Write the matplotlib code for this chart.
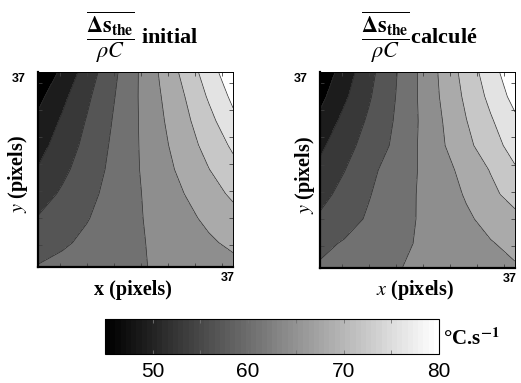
import numpy as np
import matplotlib.pyplot as plt
from matplotlib import cm, colors

plt.rcParams['mathtext.fontset'] = 'stix'

xs = [1, 5.5, 10, 14.5, 19, 23.5, 28, 32.5, 37]
ys = [1, 5.5, 10, 14.5, 19, 23.5, 28, 32.5, 37]

# rows go from y=1 (bottom) to y=37 (top)
z_initial = [
    [59.2, 60.0, 60.7, 61.4, 62.1, 62.9, 63.6, 64.3, 65.0],
    [57.4, 58.5, 59.7, 60.8, 62.0, 63.2, 64.3, 65.5, 66.7],
    [55.7, 57.3, 58.8, 60.4, 62.0, 63.6, 65.1, 66.7, 68.3],
    [53.9, 56.0, 58.0, 60.0, 62.0, 64.0, 66.0, 68.1, 70.1],
    [52.2, 54.7, 57.2, 59.6, 62.1, 64.5, 67.0, 69.4, 71.9],
    [50.7, 53.6, 56.4, 59.3, 62.1, 65.0, 67.8, 70.7, 73.6],
    [49.2, 52.5, 55.7, 58.9, 62.1, 65.4, 68.6, 71.9, 75.6],
    [47.5, 51.1, 54.8, 58.4, 62.1, 65.8, 69.4, 73.4, 77.3],
    [45.0, 49.3, 53.5, 57.8, 62.0, 66.3, 70.5, 74.8, 79.0],
]

z_calcule = [
    [59.4, 60.3, 61.2, 62.2, 63.0, 63.7, 64.3, 65.0, 65.7],
    [58.2, 59.3, 60.4, 61.6, 62.7, 63.7, 64.7, 65.8, 66.8],
    [56.0, 57.7, 59.4, 61.0, 62.6, 64.1, 65.5, 67.0, 68.5],
    [54.4, 56.6, 58.8, 60.7, 62.6, 64.4, 66.3, 68.6, 70.9],
    [52.8, 55.4, 58.1, 60.4, 62.5, 64.8, 67.1, 69.7, 72.6],
    [51.3, 54.2, 56.9, 59.4, 62.5, 65.6, 68.6, 71.5, 74.4],
    [49.3, 53.0, 56.0, 59.0, 62.4, 65.9, 69.4, 72.6, 75.8],
    [47.5, 51.4, 55.1, 58.6, 62.5, 66.4, 70.2, 73.9, 77.7],
    [45.9, 50.1, 54.4, 58.3, 62.5, 66.7, 70.9, 75.0, 79.1],
]

levels = [45, 48.5, 52, 55.5, 59, 62.5, 66, 69.5, 73, 76.5, 80]
cbar_ticks = [50, 60, 70, 80]

serif = 'Liberation Serif'
sans = 'Liberation Sans'

W, H = 521, 383
fig = plt.figure(figsize=(W / 100, H / 100), dpi=100)

band_norm = colors.Normalize(46.75, 78.25)


def draw_panel(ax, z):
    z = np.array(z)
    ax.contourf(xs, ys, z, levels=levels, cmap='gray', norm=band_norm)
    ax.contour(xs, ys, z, levels=levels[1:-1], colors='#2a2a2a', linewidths=0.5)
    ax.set_xlim(1, 37)
    ax.set_ylim(1, 37)
    ax.set_xticks([5, 10, 15, 20, 25, 30, 35])
    ax.set_yticks([5, 10, 15, 20, 25, 30, 35])
    ax.set_xticklabels([])
    ax.set_yticklabels([])
    ax.tick_params(direction='in', length=3, width=0.6, color='0.25',
                   top=True, right=True)
    for s in ['left', 'bottom']:
        ax.spines[s].set_linewidth(1.6)
    for s in ['top', 'right']:
        ax.spines[s].set_linewidth(0.7)
    ax.text(-0.065, 0.995, '37', transform=ax.transAxes, ha='right', va='top',
            fontsize=9, fontweight='bold', family=sans)
    ax.text(0.975, -0.025, '37', transform=ax.transAxes, ha='center', va='top',
            fontsize=9, fontweight='bold', family=sans)


ax1 = fig.add_axes([38 / W, 1 - 267 / H, 195 / W, 195 / H])
draw_panel(ax1, z_initial)
ax2 = fig.add_axes([320 / W, 1 - 268 / H, 195 / W, 196 / H])
draw_panel(ax2, z_calcule)

frac = r'$\dfrac{\overline{\mathbf{\Delta s}_{\mathbf{the}}}}{\rho C}$'
fig.text(142 / W, 1 - 37 / H, frac + ' initial', ha='center', va='center',
         fontsize=16, fontweight='bold', family=serif)
fig.text(419 / W, 1 - 37 / H, frac + 'calculé', ha='center', va='center',
         fontsize=16, fontweight='bold', family=serif)

# axis labels
fig.text(133 / W, 1 - 290 / H, 'x (pixels)', ha='center', va='center',
         fontsize=14.5, fontweight='bold', family=serif)
fig.text(415 / W, 1 - 290 / H, r'$\mathit{x}$ (pixels)', ha='center', va='center',
         fontsize=14.5, fontweight='bold', family=serif)
fig.text(18 / W, 1 - 174 / H, r'$\mathit{y}$ (pixels)', ha='center', va='center',
         rotation=90, fontsize=14.5, fontweight='bold', family=serif)
fig.text(305 / W, 1 - 175 / H, r'$\mathit{y}$ (pixels)', ha='center', va='center',
         rotation=90, fontsize=14.5, fontweight='bold', family=serif)

# colorbar
cax = fig.add_axes([105 / W, 1 - 354 / H, 334 / W, 35 / H])
sm = cm.ScalarMappable(norm=colors.Normalize(45, 80), cmap=plt.get_cmap('gray', 64))
cbar = fig.colorbar(sm, cax=cax, orientation='horizontal')
cbar.set_ticks(cbar_ticks)
cbar.set_ticklabels([str(t) for t in cbar_ticks])
cax.set_xticks([55, 65, 75], minor=True)
cax.tick_params(which='both', direction='in', top=True, bottom=True,
                length=3, width=0.6, color='0.45', pad=6)
for lab in cax.get_xticklabels():
    lab.set_fontfamily(sans)
    lab.set_fontsize(15)
cbar.outline.set_linewidth(0.8)
fig.text(443 / W, 1 - 339 / H, r'°C.s$^{\mathbf{-1}}$', ha='left', va='center',
         fontsize=15, fontweight='bold', family=serif)

fig.savefig('out.png', dpi=100)
